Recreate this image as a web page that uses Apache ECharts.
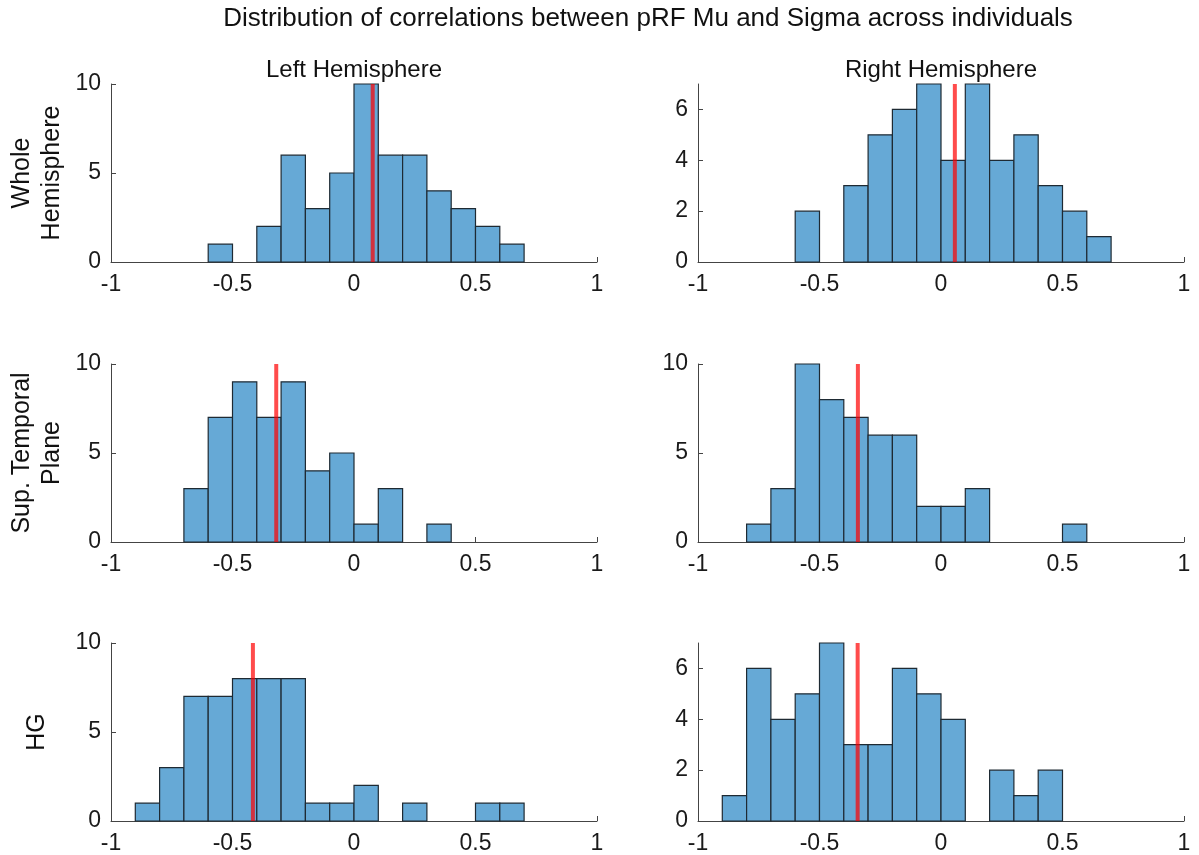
<!DOCTYPE html>
<html><head><meta charset="utf-8">
<script src="https://cdn.jsdelivr.net/npm/echarts@6/dist/echarts.min.js"></script>
<style>html,body{margin:0;padding:0;background:#fff}#c{width:1199px;height:855px}</style>
</head><body><div id="c"></div>
<script>
// Bin edges (width 0.1 from -1 to 1)
var binEdges = [-1,-0.9,-0.8,-0.7,-0.6,-0.5,-0.4,-0.3,-0.2,-0.1,0,0.1,0.2,0.3,0.4,0.5,0.6,0.7,0.8,0.9,1];
// Counts per bin (20 bins)
var lhWhole = [0,0,0,0,1,0,2,6,3,5,10,6,6,4,3,2,1,0,0,0];
var rhWhole = [0,0,0,0,2,0,3,5,6,7,4,7,4,5,3,2,1,0,0,0];
var lhSTP   = [0,0,0,3,7,9,7,9,4,5,1,3,0,1,0,0,0,0,0,0];
var rhSTP   = [0,0,1,3,10,8,7,6,6,2,2,3,0,0,0,1,0,0,0,0];
var lhHG    = [0,1,3,7,7,8,8,8,1,1,2,0,1,0,0,1,1,0,0,0];
var rhHG    = [0,1,6,4,5,7,3,3,6,5,4,0,2,1,2,0,0,0,0,0];
// Mean correlation (red line) per panel
var meanVals = [0.077, 0.057, -0.32, -0.342, -0.416, -0.343];
// Axis settings
var xTicks = [-1,-0.5,0,0.5,1];
var yMaxes = [10,7,10,10,10,7];
var yTicks = [[0,5,10],[0,2,4,6],[0,5,10],[0,5,10],[0,5,10],[0,2,4,6]];
var mainTitle = 'Distribution of correlations between pRF Mu and Sigma across individuals';
var colTitles = ['Left Hemisphere','Right Hemisphere'];
var rowTitles = ['Whole\nHemisphere','Sup. Temporal\nPlane','HG'];

var panels = [lhWhole, rhWhole, lhSTP, rhSTP, lhHG, rhHG];
var font = 'Liberation Sans, Arial, Helvetica, sans-serif';
var axisColor = '#444444';
var colLeft = [111, 698], colWidth = 486;
var rowTop = [84, 364, 643], rowHeight = 178;

var grids = [], xAxes = [], yAxes = [], series = [];
panels.forEach(function(counts, i){
  var r = Math.floor(i/2), c = i%2;
  grids.push({left: colLeft[c], top: rowTop[r], width: colWidth, height: rowHeight});
  xAxes.push({type:'value', gridIndex:i, min:-1, max:1, interval:0.5,
    axisLine:{show:true, onZero:false, lineStyle:{color:axisColor, width:1}},
    axisTick:{show:true, inside:true, length:5, customValues:xTicks, lineStyle:{color:axisColor}},
    axisLabel:{customValues:xTicks, color:'#1a1a1a', fontSize:23, fontFamily:font, margin:11},
    splitLine:{show:false}});
  yAxes.push({type:'value', gridIndex:i, min:0, max:yMaxes[i],
    axisLine:{show:true, onZero:false, lineStyle:{color:axisColor, width:1}},
    axisTick:{show:true, inside:true, length:5, customValues:yTicks[i], lineStyle:{color:axisColor}},
    axisLabel:{customValues:yTicks[i], color:'#1a1a1a', fontSize:23, fontFamily:font, margin:10},
    splitLine:{show:false}});
  var data = [];
  for (var k = 0; k < counts.length; k++) {
    if (counts[k] > 0) data.push([binEdges[k], binEdges[k+1], counts[k]]);
  }
  series.push({type:'custom', xAxisIndex:i, yAxisIndex:i, z:2, silent:true,
    encode:{x:[0,1], y:2}, data:data,
    renderItem:function(params, api){
      var p0 = api.coord([api.value(0), api.value(2)]);
      var p1 = api.coord([api.value(1), 0]);
      return {type:'rect', shape:{x:p0[0], y:p0[1], width:p1[0]-p0[0], height:p1[1]-p0[1]},
        style:{fill:'#66a9d6', stroke:'#1e2a33', lineWidth:1.2}};
    }});
  series.push({type:'line', xAxisIndex:i, yAxisIndex:i, z:5, silent:true, symbol:'none',
    data:[[meanVals[i],0],[meanVals[i],yMaxes[i]]],
    lineStyle:{color:'rgba(255,0,0,0.7)', width:4}});
});

var chart = echarts.init(document.getElementById('c'), null, {renderer:'canvas'});
chart.setOption({
  animation:false,
  backgroundColor:'#fff',
  graphic: [
    {type:'text', x:648, y:19, style:{text:mainTitle, fontSize:26, fontFamily:font, fill:'#111', align:'center', verticalAlign:'middle'}},
    {type:'text', x:354, y:70, style:{text:colTitles[0], fontSize:24, fontFamily:font, fill:'#111', align:'center', verticalAlign:'middle'}},
    {type:'text', x:941, y:70, style:{text:colTitles[1], fontSize:24, fontFamily:font, fill:'#111', align:'center', verticalAlign:'middle'}}
  ].concat(rowTitles.map(function(t, r){
    return {type:'text', x:37, y:rowTop[r]+rowHeight/2, rotation:Math.PI/2,
      style:{text:t, fontSize:25, fontFamily:font, fill:'#111', align:'center', verticalAlign:'middle', lineHeight:30}};
  })),
  grid:grids, xAxis:xAxes, yAxis:yAxes, series:series
});
</script></body></html>
